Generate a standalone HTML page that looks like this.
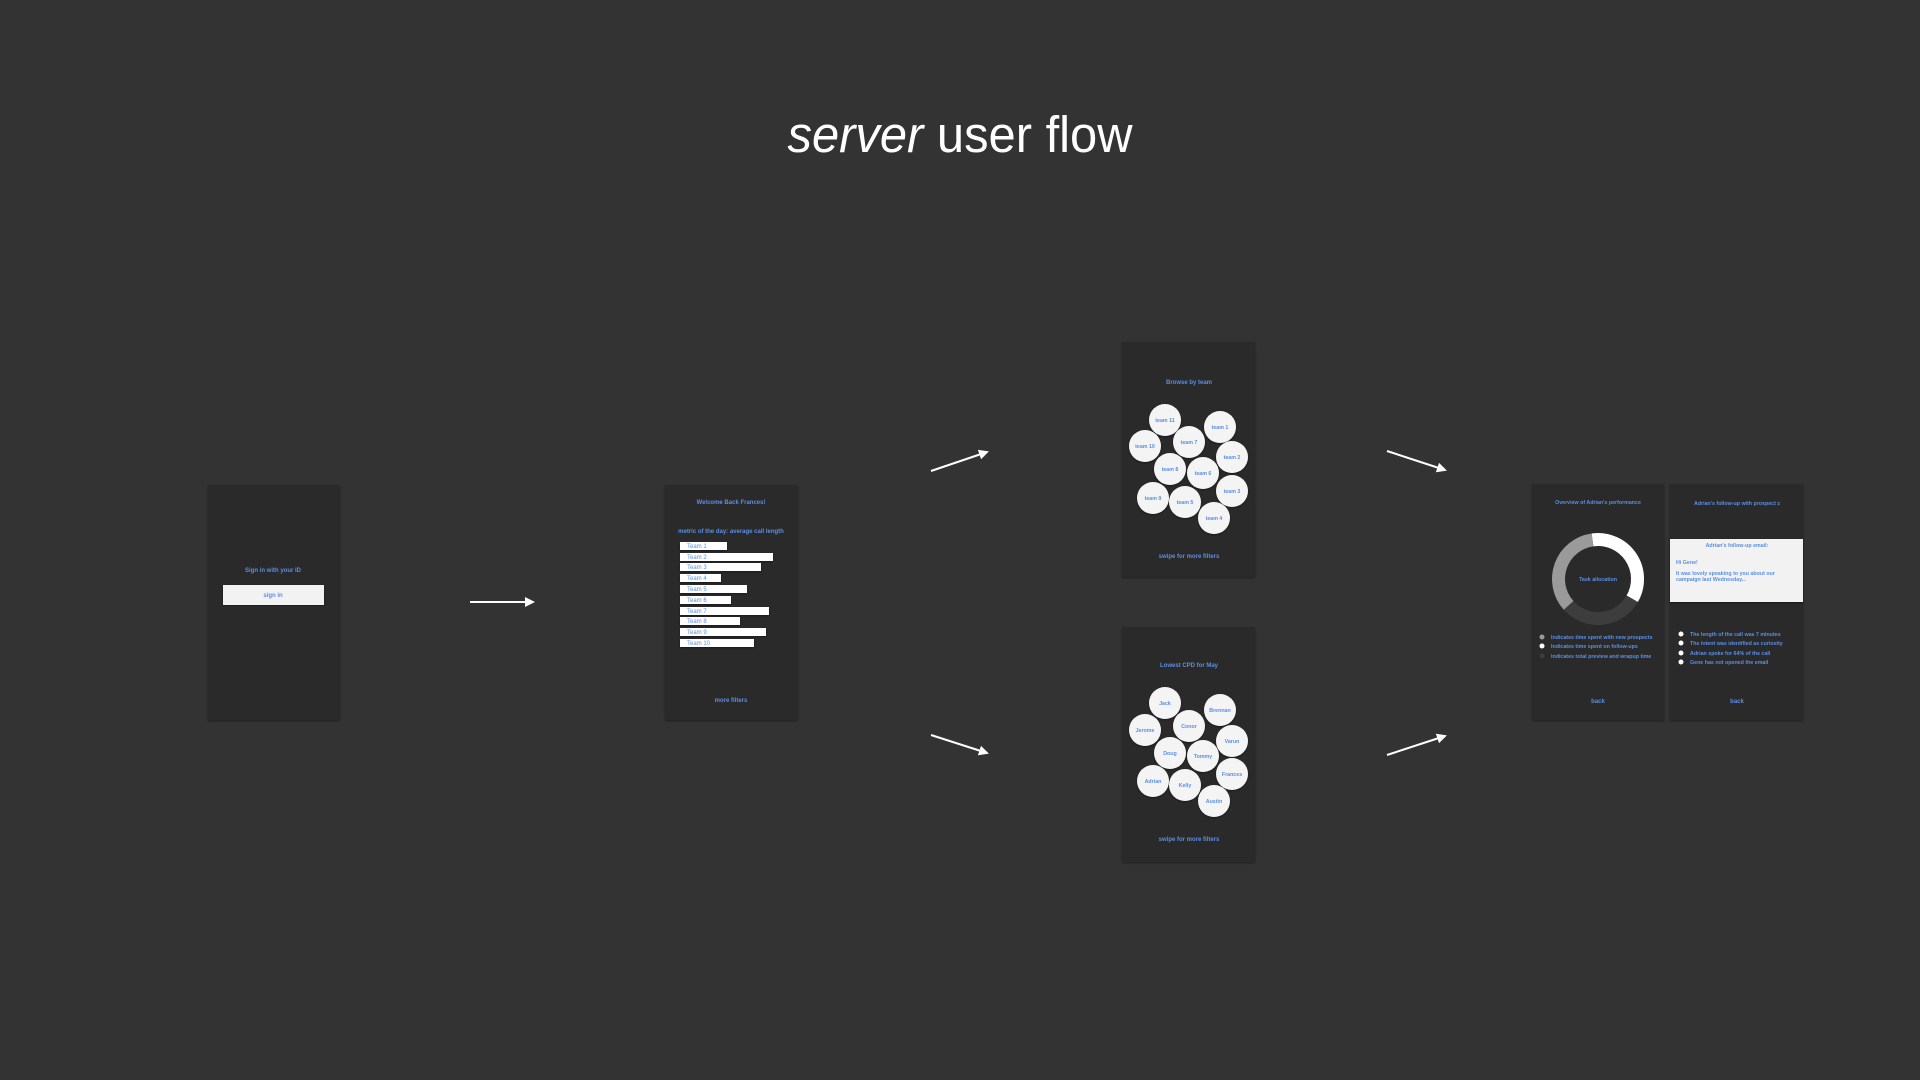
<!DOCTYPE html>
<html><head><meta charset="utf-8"><style>
html,body{margin:0;padding:0;background:#333333;}
svg{display:block}
text{font-family:"Liberation Sans",sans-serif;}
.b{fill:#5b8ee6;font-size:6px;font-weight:bold;}
.s{font-size:5.3px;}
</style></head><body>
<svg width="1920" height="1080" viewBox="0 0 1920 1080" xmlns="http://www.w3.org/2000/svg">
<defs>
<marker id="ah" markerWidth="10" markerHeight="10" refX="8" refY="5" orient="auto" markerUnits="userSpaceOnUse"><path d="M0,0 L10,5 L0,10 z" fill="#fff"/></marker>
<filter id="sh" x="-5%" y="-5%" width="110%" height="110%"><feDropShadow dx="0" dy="1" stdDeviation="1" flood-color="#000" flood-opacity="0.4"/></filter>
</defs>
<rect width="1920" height="1080" fill="#333"/>
<text x="960" y="152" text-anchor="middle" font-size="51" fill="#fff" textLength="345" lengthAdjust="spacingAndGlyphs"><tspan font-style="italic">server</tspan> user flow</text>

<g filter="url(#sh)" fill="#2c2c2c">
<rect x="208" y="485" width="132" height="235"/>
<rect x="665" y="485" width="133" height="235"/>
<rect x="1122" y="342" width="133" height="235"/>
<rect x="1122" y="627" width="133" height="235"/>
<rect x="1532" y="484" width="132" height="236"/>
<rect x="1670" y="484" width="133" height="236"/>
</g>

<g stroke="#fff" stroke-width="2" marker-end="url(#ah)">
<line x1="470" y1="602" x2="533" y2="602"/>
<line x1="931" y1="471" x2="987" y2="452"/>
<line x1="931" y1="735" x2="987" y2="753"/>
<line x1="1387" y1="451" x2="1445" y2="470"/>
<line x1="1387" y1="755" x2="1445" y2="736"/>
</g>

<text class="b" x="273" y="572" text-anchor="middle">Sign in with your ID</text>
<rect x="223" y="585" width="101" height="20" fill="#f2f2f2" filter="url(#sh)"/>
<text class="b" x="273" y="597" text-anchor="middle">sign in</text>

<text class="b" x="731" y="504" text-anchor="middle">Welcome Back Frances!</text>
<text class="b" x="731" y="533" text-anchor="middle">metric of the day: average call length</text>
<g fill="#fff" filter="url(#sh)">
<rect x="680" y="542" width="47" height="8"/>
<rect x="680" y="553" width="93" height="8"/>
<rect x="680" y="563" width="81" height="8"/>
<rect x="680" y="574" width="41" height="8"/>
<rect x="680" y="585" width="67" height="8"/>
<rect x="680" y="596" width="51" height="8"/>
<rect x="680" y="607" width="89" height="8"/>
<rect x="680" y="617" width="60" height="8"/>
<rect x="680" y="628" width="86" height="8"/>
<rect x="680" y="639" width="74" height="8"/>
</g>
<g class="b" style="font-weight:normal">
<text x="687" y="548">Team 1</text><text x="687" y="559">Team 2</text><text x="687" y="569">Team 3</text><text x="687" y="580">Team 4</text><text x="687" y="591">Team 5</text><text x="687" y="602">Team 6</text><text x="687" y="613">Team 7</text><text x="687" y="623">Team 8</text><text x="687" y="634">Team 9</text><text x="687" y="645">Team 10</text>
</g>
<text class="b" x="731" y="702" text-anchor="middle">more filters</text>

<text class="b" x="1189" y="384" text-anchor="middle">Browse by team</text>
<g fill="#f4f4f4" filter="url(#sh)">
<circle cx="1165" cy="420" r="16"/><circle cx="1220" cy="427" r="16"/><circle cx="1145" cy="446" r="16"/><circle cx="1189" cy="442" r="16"/><circle cx="1232" cy="457" r="16"/><circle cx="1170" cy="469" r="16"/><circle cx="1203" cy="473" r="16"/><circle cx="1232" cy="491" r="16"/><circle cx="1153" cy="498" r="16"/><circle cx="1185" cy="502" r="16"/><circle cx="1214" cy="518" r="16"/>
</g>
<g class="b s" text-anchor="middle">
<text x="1165" y="422">team 11</text><text x="1220" y="429">team 1</text><text x="1145" y="448">team 10</text><text x="1189" y="444">team 7</text><text x="1232" y="459">team 2</text><text x="1170" y="471">team 8</text><text x="1203" y="475">team 6</text><text x="1232" y="493">team 3</text><text x="1153" y="500">team 9</text><text x="1185" y="504">team 5</text><text x="1214" y="520">team 4</text>
</g>
<text class="b" x="1189" y="558" text-anchor="middle">swipe for more filters</text>

<text class="b" x="1189" y="667" text-anchor="middle">Lowest CPD for May</text>
<g fill="#f4f4f4" filter="url(#sh)">
<circle cx="1165" cy="703" r="16"/><circle cx="1220" cy="710" r="16"/><circle cx="1145" cy="730" r="16"/><circle cx="1189" cy="726" r="16"/><circle cx="1232" cy="741" r="16"/><circle cx="1170" cy="753" r="16"/><circle cx="1203" cy="756" r="16"/><circle cx="1232" cy="774" r="16"/><circle cx="1153" cy="781" r="16"/><circle cx="1185" cy="785" r="16"/><circle cx="1214" cy="801" r="16"/>
</g>
<g class="b s" text-anchor="middle">
<text x="1165" y="705">Jack</text><text x="1220" y="712">Brennan</text><text x="1145" y="732">Jerome</text><text x="1189" y="728">Conor</text><text x="1232" y="743">Varun</text><text x="1170" y="755">Doug</text><text x="1203" y="758">Tommy</text><text x="1232" y="776">Frances</text><text x="1153" y="783">Adrian</text><text x="1185" y="787">Kelly</text><text x="1214" y="803">Austin</text>
</g>
<text class="b" x="1189" y="841" text-anchor="middle">swipe for more filters</text>

<text class="b s" x="1598" y="504" text-anchor="middle">Overview of Adrian's performance</text>
<g fill="none" stroke-width="13">
<path d="M1592.5,539.9 A39.5,39.5 0 0,1 1632.2,598.8" stroke="#ffffff"/>
<path d="M1632.2,598.8 A39.5,39.5 0 0,1 1568.6,605.4" stroke="#3d3d3d"/>
<path d="M1568.6,605.4 A39.5,39.5 0 0,1 1592.5,539.9" stroke="#9a9a9a"/>
</g>
<text class="b s" x="1598" y="581" text-anchor="middle">Task allocation</text>
<circle cx="1542" cy="637" r="2.5" fill="#9a9a9a"/>
<circle cx="1542" cy="646" r="2.5" fill="#fff"/>
<circle cx="1542" cy="656" r="2.5" fill="#3d3d3d"/>
<text class="b s" x="1551" y="639">Indicates time spent with new prospects</text>
<text class="b s" x="1551" y="648">Indicates time spent on follow-ups</text>
<text class="b s" x="1551" y="658">Indicates total preview and wrapup time</text>
<text class="b" x="1598" y="703" text-anchor="middle">back</text>

<text class="b s" x="1737" y="505" text-anchor="middle">Adrian's follow-up with prospect z</text>
<rect x="1670" y="539" width="133" height="63" fill="#f2f2f2" filter="url(#sh)"/>
<text class="b s" x="1737" y="547" text-anchor="middle">Adrian's follow-up email:</text>
<text class="b s" x="1676" y="564">Hi Gene!</text>
<text class="b s" x="1676" y="575">It was lovely speaking to you about our</text>
<text class="b s" x="1676" y="581">campaign last Wednesday...</text>
<g fill="#fff"><circle cx="1681" cy="634" r="2.5"/><circle cx="1681" cy="643" r="2.5"/><circle cx="1681" cy="653" r="2.5"/><circle cx="1681" cy="662" r="2.5"/></g>
<text class="b s" x="1690" y="636">The length of the call was 7 minutes</text>
<text class="b s" x="1690" y="645">The intent was identified as curiosity</text>
<text class="b s" x="1690" y="655">Adrian spoke for 64% of the call</text>
<text class="b s" x="1690" y="664">Gene has not opened the email</text>
<text class="b" x="1737" y="703" text-anchor="middle">back</text>
</svg>
</body></html>
